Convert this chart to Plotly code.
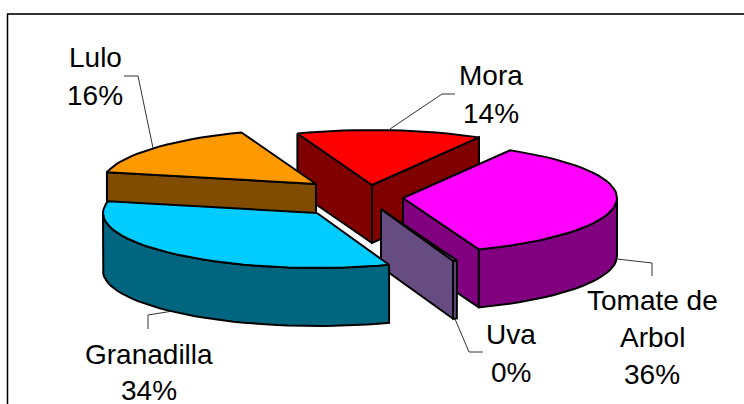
import math
import plotly.graph_objects as go

# slice order follows the pie, clockwise from the first slice angle
names = ["Tomate de Arbol", "Uva", "Granadilla", "Lulo", "Mora"]
values = [35.9, 0.3, 33.9, 15.9, 14.0]
top_colors = ["#FF00FF", "#CC99FF", "#00CCFF", "#FF9900", "#FF0000"]
side_colors = ["#800080", "#664C80", "#006680", "#804D00", "#800000"]

# where each exploded slice has its apex on the page
apex_x = [403, 381, 317, 316, 372]
apex_y = [198, 209, 213, 184, 185]

FIRST_ANGLE = 30
RX, RY = 214, 55
DEPTH = 58
DRAW_ORDER = [4, 3, 0, 1, 2]

# text lines are placed one by one, the line spacing is wider than plotly's
label_lines = {
    "Tomate de Arbol": [("Tomate de", 652, 300), ("Arbol", 652, 337), ("36%", 652, 374)],
    "Uva": [("Uva", 511, 334), ("0%", 511, 372)],
    "Granadilla": [("Granadilla", 149, 354), ("34%", 149, 390)],
    "Lulo": [("Lulo", 95, 57), ("16%", 95, 95)],
    "Mora": [("Mora", 491, 75), ("14%", 491, 113)],
}
leaders = [
    ([124, 138, 153], [76, 76, 148]),
    ([455, 442, 390], [94, 94, 129]),
    ([148, 148, 173], [329, 315, 311]),
    ([652, 652, 617], [276, 263, 259]),
    ([455, 469, 483], [319, 352, 352]),
]


def rim_point(cx, cy, deg):
    a = math.radians(deg)
    return cx + RX * math.sin(a), cy - RY * math.cos(a)


def arc(cx, cy, start, end):
    n = max(2, int((end - start) / 3) + 1)
    return [rim_point(cx, cy, start + (end - start) * i / (n - 1)) for i in range(n)]


def poly(fig, pts, fill):
    xs = [p[0] for p in pts] + [pts[0][0]]
    ys = [p[1] for p in pts] + [pts[0][1]]
    fig.add_trace(go.Scatter(
        x=xs, y=ys, mode="lines", fill="toself", fillcolor=fill,
        line=dict(color="#000000", width=2), hoverinfo="skip", showlegend=False,
    ))


def slice_traces(fig, i, start, end):
    cx, cy = apex_x[i], apex_y[i]
    # a cut face only shows when its outward side points down the page
    for deg, normal in ((start, start - 90), (end, end + 90)):
        if math.cos(math.radians(normal)) < 0:
            x, y = rim_point(cx, cy, deg)
            poly(fig, [(cx, cy), (x, y), (x, y + DEPTH), (cx, cy + DEPTH)], side_colors[i])
    lo, hi = max(start, 90), min(end, 270)
    if lo < hi:
        edge = arc(cx, cy, lo, hi)
        poly(fig, edge + [(x, y + DEPTH) for x, y in reversed(edge)], side_colors[i])
    poly(fig, [(cx, cy)] + arc(cx, cy, start, end), top_colors[i])


fig = go.Figure()

for xs, ys in leaders:
    fig.add_trace(go.Scatter(x=xs, y=ys, mode="lines", line=dict(color="#333333", width=1),
                             hoverinfo="skip", showlegend=False))

total = sum(values)
angles = [FIRST_ANGLE]
for v in values:
    angles.append(angles[-1] + v / total * 360)

for i in DRAW_ORDER:
    slice_traces(fig, i, angles[i], angles[i + 1])

for name in names:
    for text, x, y in label_lines[name]:
        fig.add_annotation(x=x, y=y, text=text, showarrow=False, xanchor="center", yanchor="middle",
                           font=dict(family="Liberation Sans, Arial, sans-serif", size=28, color="#000000"))

fig.add_shape(type="line", x0=7, x1=744, y0=14, y1=14, line=dict(color="#333333", width=2))
fig.add_shape(type="line", x0=7.5, x1=7.5, y0=14, y1=404, line=dict(color="#000000", width=1.5))

fig.update_layout(
    width=744, height=404,
    margin=dict(l=0, r=0, t=0, b=0),
    paper_bgcolor="white", plot_bgcolor="white",
    xaxis=dict(range=[0, 744], visible=False),
    yaxis=dict(range=[404, 0], visible=False),
    showlegend=False,
)

fig.write_html("out.html", config=dict(displayModeBar=False),
               post_script="document.body.style.margin='0';")
